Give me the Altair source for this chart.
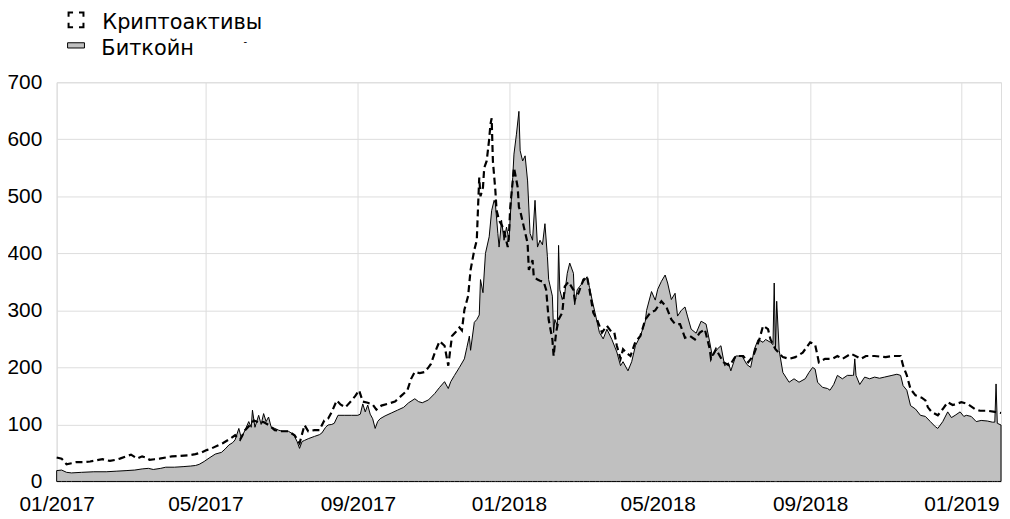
import altair as alt
import pandas as pd

# Bitcoin (area) - day offsets from 2017-01-01 and values
btc_days = [0, 4, 8, 12, 20, 30, 40, 48, 56, 63, 69, 74, 78, 84, 88, 95, 102, 108, 112, 115,
            119, 123, 128, 133, 136, 139, 142, 144, 147, 149, 152, 155, 157, 158, 160, 163, 165, 167, 169, 171,
            173, 176, 179, 182, 187, 190, 192, 194, 196, 198, 200, 203, 208, 212, 214, 217, 219, 222, 224, 227,
            232, 238, 243, 245, 247, 249, 251, 253, 255, 257, 259, 261, 265, 270, 275, 280, 284, 289, 292, 295,
            300, 305, 309, 313, 316, 318, 321, 325, 329, 331, 333, 334, 337, 339, 341, 342, 344, 346, 349, 351,
            353, 354, 356, 357, 359, 361, 363, 365, 366, 368, 369, 371, 373, 374, 376, 378, 380, 382, 384, 386,
            388, 390, 392, 394, 396, 397, 400, 401, 402, 404, 405, 406, 408, 410, 412, 414, 417, 418, 420, 422,
            425, 428, 430, 432, 435, 438, 441, 444, 448, 452, 455, 457, 461, 464, 467, 471, 475, 476, 480, 483,
            485, 488, 491, 493, 496, 499, 501, 504, 507, 509, 512, 516, 520, 524, 527, 529, 533, 536, 539, 542,
            544, 548, 553, 557, 560, 563, 566, 570, 572, 576, 578, 579, 580, 581, 583, 586, 591, 595, 599, 604,
            607, 610, 612, 614, 618, 622, 624, 627, 630, 634, 638, 642, 643, 644, 645, 648, 652, 656, 660, 664,
            668, 674, 678, 681, 683, 686, 689, 693, 697, 701, 705, 709, 711, 715, 719, 722, 725, 729, 732, 734,
            738, 742, 746, 751, 755, 757, 758, 759, 762]
btc_vals = [19, 20, 16, 15, 16, 17, 17, 18, 19, 20, 22, 23, 21, 23, 25, 25, 26, 27, 28, 30,
            35, 41, 48, 51, 57, 64, 68, 73, 93, 76, 90, 105, 95, 125, 95, 116, 100, 119, 105, 113,
            96, 93, 90, 88, 88, 84, 79, 70, 58, 70, 72, 75, 79, 82, 85, 95, 99, 100, 102, 116,
            116, 116, 116, 118, 136, 122, 134, 118, 110, 93, 105, 110, 115, 120, 125, 130, 138, 145, 140, 138,
            143, 154, 165, 175, 163, 175, 186, 200, 215, 235, 255, 230, 279, 284, 292, 354, 331, 400, 429, 475,
            493, 487, 435, 411, 458, 423, 446, 423, 464, 533, 574, 609, 649, 580, 562, 571, 527, 435, 423, 493,
            411, 423, 415, 452, 394, 354, 325, 261, 284, 273, 414, 336, 319, 330, 365, 383, 365, 310, 336, 342,
            350, 359, 340, 319, 290, 261, 250, 267, 249, 227, 203, 210, 194, 210, 238, 255, 281, 300, 333, 318,
            337, 351, 362, 348, 319, 330, 290, 300, 306, 290, 267, 260, 281, 276, 244, 220, 232, 238, 203, 208,
            194, 220, 220, 205, 200, 232, 249, 244, 249, 244, 240, 348, 232, 316, 230, 191, 174, 180, 174, 180,
            191, 200, 197, 174, 165, 163, 160, 170, 186, 180, 186, 186, 186, 215, 186, 170, 183, 180, 183, 181,
            183, 186, 188, 186, 168, 160, 133, 127, 116, 114, 105, 96, 93, 105, 122, 112, 116, 122, 114, 116,
            114, 105, 107, 106, 104, 104, 171, 102, 99]

# Crypto-assets (dashed line)
crypto_days = [0, 4, 8, 12, 16, 22, 27, 32, 37, 43, 48, 51, 56, 60, 65, 69, 72, 75, 79, 83,
               88, 93, 100, 107, 112, 117, 121, 125, 130, 134, 140, 144, 148, 152, 156, 159, 163, 167, 171, 176,
               182, 187, 192, 196, 200, 203, 208, 212, 216, 219, 222, 226, 229, 233, 238, 241, 244, 247, 251, 255,
               258, 262, 267, 273, 278, 283, 286, 289, 293, 297, 300, 302, 305, 309, 313, 316, 319, 322, 325, 327,
               329, 332, 334, 337, 339, 340, 341, 342, 344, 345, 347, 349, 350, 351, 352, 354, 355, 357, 360, 362,
               364, 365, 366, 369, 370, 372, 373, 374, 377, 380, 381, 384, 385, 388, 390, 393, 395, 397, 400, 401,
               403, 405, 408, 410, 413, 417, 418, 421, 425, 428, 430, 433, 436, 440, 444, 448, 450, 452, 455, 457,
               460, 463, 467, 471, 475, 479, 483, 488, 492, 496, 499, 503, 507, 511, 515, 519, 523, 527, 528, 532,
               538, 543, 548, 554, 558, 562, 567, 570, 574, 576, 580, 586, 591, 596, 602, 605, 608, 612, 614, 615,
               620, 626, 630, 634, 641, 649, 653, 660, 669, 674, 681, 683, 686, 689, 693, 698, 701, 703, 706, 711,
               715, 719, 723, 726, 730, 735, 741, 745, 751, 757, 762]
crypto_vals = [42, 40, 30, 32, 34, 34, 35, 37, 39, 36, 38, 40, 44, 47, 40, 44, 42, 38, 39, 40,
               42, 44, 45, 46, 48, 51, 55, 58, 63, 67, 75, 81, 73, 90, 99, 107, 104, 104, 99, 90,
               88, 88, 81, 67, 99, 88, 90, 90, 107, 110, 122, 142, 135, 130, 142, 150, 160, 140, 138, 135,
               126, 133, 136, 140, 150, 160, 180, 192, 190, 192, 200, 206, 225, 246, 238, 203, 255, 262, 270, 265,
               301, 325, 371, 406, 423, 480, 533, 500, 516, 550, 562, 600, 626, 637, 562, 510, 475, 458, 446, 430,
               411, 434, 481, 550, 539, 516, 481, 475, 446, 418, 371, 388, 359, 354, 352, 350, 336, 284, 249, 220,
               261, 284, 296, 342, 350, 336, 319, 330, 354, 359, 336, 296, 284, 261, 273, 261, 261, 238, 215, 232,
               225, 220, 245, 255, 284, 296, 300, 316, 306, 284, 276, 276, 252, 255, 249, 261, 267, 232, 215, 232,
               209, 203, 220, 220, 209, 220, 249, 273, 267, 249, 232, 218, 215, 218, 226, 235, 244, 240, 220, 209,
               215, 215, 220, 215, 224, 215, 220, 220, 218, 220, 220, 203, 186, 162, 151, 147, 142, 130, 122, 116,
               127, 139, 134, 136, 139, 136, 127, 124, 124, 122, 120]

series_names = ["Криптоактивы", "Биткойн"]
tick_years = [2017, 2017, 2017, 2018, 2018, 2018, 2019]
tick_months = [1, 5, 9, 1, 5, 9, 1]
y_ticks = [0, 100, 200, 300, 400, 500, 600, 700]

start = pd.Timestamp("2017-01-01")


def to_dates(days):
    return [(start + pd.Timedelta(days=d)).strftime("%Y-%m-%d") for d in days]


btc = pd.DataFrame({"date": to_dates(btc_days), "value": btc_vals, "series": series_names[1]})
crypto = pd.DataFrame({"date": to_dates(crypto_days), "value": crypto_vals, "series": series_names[0]})

FONT = "Liberation Sans"
LEG_FONT = "DejaVu Sans"
GRID = "#dddddd"

x_enc = alt.X(
    "date:T",
    scale=alt.Scale(
        type="utc",
        domain=[alt.DateTime(year=2017, month=1, date=1, utc=True),
                alt.DateTime(year=2019, month=2, date=2, utc=True)],
    ),
    axis=alt.Axis(
        values=[alt.DateTime(year=yy, month=mm, date=1, utc=True) for yy, mm in zip(tick_years, tick_months)],
        labelExpr="utcFormat(datum.value, '%m/%Y')", title=None, grid=True, gridColor=GRID,
        ticks=False, domain=False, labelFont=FONT, labelFontSize=21, labelColor="black",
        labelPadding=12, labelOverlap=False, labelFlush=False,
    ),
)
y_enc = alt.Y(
    "value:Q",
    scale=alt.Scale(domain=[0, 700], nice=False),
    axis=alt.Axis(
        values=y_ticks, title=None, grid=True, gridColor=GRID, ticks=False, domain=False,
        labelFont=FONT, labelFontSize=21, labelColor="black", labelPadding=15,
    ),
)

area = alt.Chart(btc).mark_area(stroke="black", strokeWidth=1, interpolate="linear").encode(
    x=x_enc,
    y=y_enc,
    fill=alt.Fill(
        "series:N",
        scale=alt.Scale(domain=[series_names[1]], range=["#c0c0c0"]),
        legend=alt.Legend(
            title=None, orient="none", legendX=9, legendY=-44, padding=0,
            symbolType="M-1,-0.74 L1,-0.74 L1,-0.12 L-1,-0.12 Z", symbolSize=289,
            symbolStrokeColor="black", symbolStrokeWidth=1,
            labelFont=LEG_FONT, labelFontSize=21, labelColor="black", labelOffset=15,
            labelLimit=400,
        ),
    ),
)

line = alt.Chart(crypto).mark_line(strokeDash=[7, 4], strokeWidth=2.2, interpolate="linear").encode(
    x="date:T",
    y="value:Q",
    stroke=alt.Stroke(
        "series:N",
        scale=alt.Scale(domain=[series_names[0]], range=["black"]),
        legend=alt.Legend(
            title=None, orient="none", legendX=9, legendY=-70, padding=0,
            symbolType="M-1,-1.45 L1,-1.45 L1,0.55 L-1,0.55 Z", symbolSize=225,
            symbolStrokeWidth=2, symbolFillColor="transparent",
            symbolDash=[9, 6], symbolDashOffset=4.5,
            labelFont=LEG_FONT, labelFontSize=21, labelColor="black", labelOffset=16,
            labelLimit=400,
        ),
    ),
)

dash_note = alt.Chart(pd.DataFrame({"t": ["-"]})).mark_text(
    font=FONT, fontSize=11, color="black"
).encode(text="t:N", x=alt.value(190), y=alt.value(-41))

chart = alt.layer(area, line, dash_note).resolve_scale(fill="independent", stroke="independent").properties(
    width=951, height=402,
    padding={"left": 49, "top": 73, "right": 1, "bottom": 34},
    autosize=alt.AutoSizeParams(type="none"),
).configure_view(strokeWidth=0).configure(font=FONT)

chart.save("out.html", embed_options={"renderer": "svg", "actions": False})
